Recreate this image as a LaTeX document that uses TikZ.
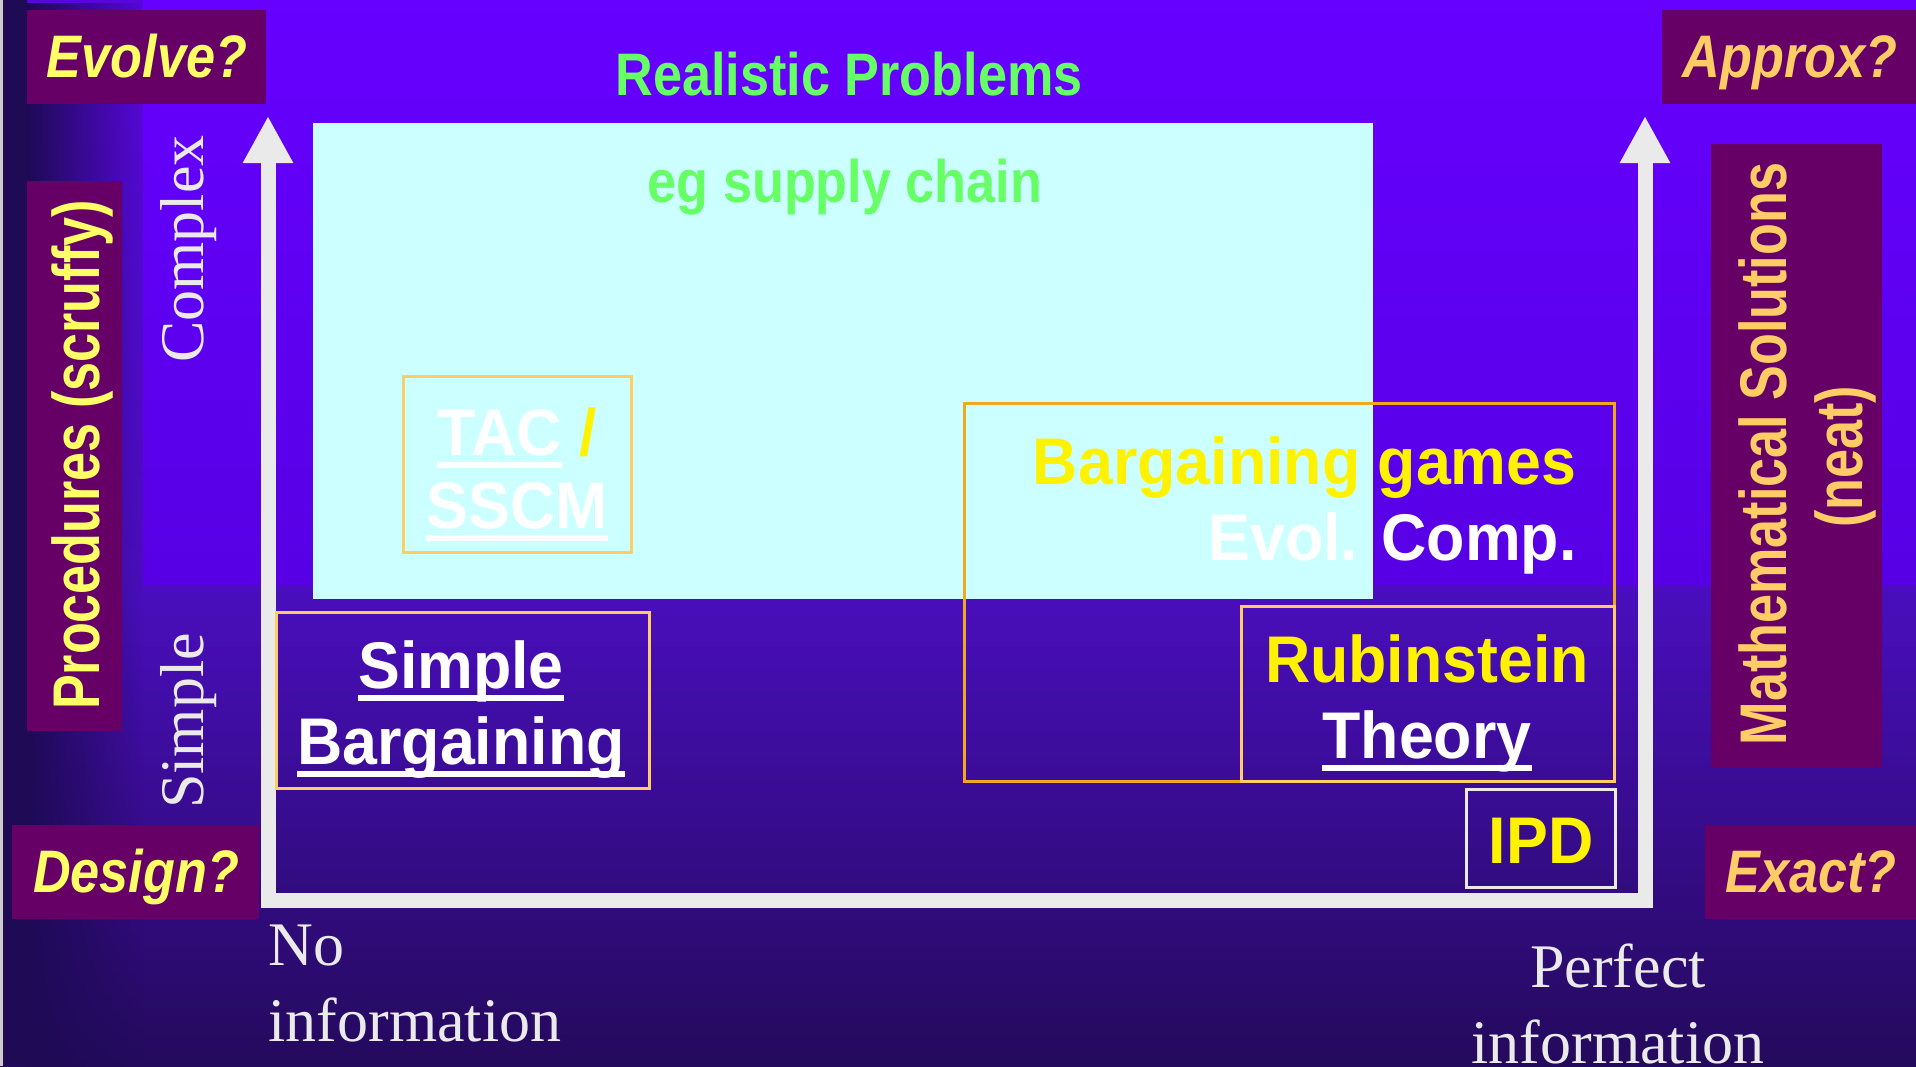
\documentclass[tikz,border=0pt]{standalone}
\usepackage{fontspec}
\setmainfont{Liberation Serif}
\newfontfamily\bodyfont[FakeStretch=0.95]{Liberation Sans}
\newfontfamily\headfont[FakeStretch=0.87]{Liberation Sans}
\newfontfamily\sidefont[FakeStretch=0.79]{Liberation Sans}
\usepackage{tikz}
\usetikzlibrary{arrows.meta,fadings}

\definecolor{bgtop}{HTML}{6600FF}
\definecolor{bgmid}{HTML}{5700E4}
\definecolor{bgleft}{HTML}{5806DC}
\definecolor{bglow}{HTML}{4A0EBE}
\definecolor{bgbottom}{HTML}{240A5C}
\definecolor{bgdark}{HTML}{1E0A55}
\definecolor{tagpurple}{HTML}{660066}
\definecolor{tagyellow}{HTML}{FFFF66}
\definecolor{tagorange}{HTML}{FFCC66}
\definecolor{probgreen}{HTML}{66FF66}
\definecolor{realcyan}{HTML}{CCFFFF}
\definecolor{boxorange}{HTML}{F0A820}
\definecolor{axisgray}{HTML}{EAEAEA}

\tikzfading[name=fadeoff right, left color=transparent!0, right color=transparent!100]

% thick underline as on the slide
\newcommand\ulword[1]{\setbox0=\hbox{#1}\rlap{\rule[-13pt]{\wd0}{6.5pt}}\box0\relax}

\begin{document}
\begin{tikzpicture}[x=1pt,y=-1pt,
    tagbox/.style={fill=tagpurple,inner sep=0pt},
    outbox/.style={draw=tagorange,line width=3pt,inner sep=0pt},
    asktxt/.style={anchor=base,font=\headfont\bfseries\itshape\fontsize{60}{70}\selectfont},
    headtxt/.style={anchor=base,text=probgreen,font=\headfont\bfseries\fontsize{60}{70}\selectfont},
    sidetxt/.style={anchor=base,rotate=90,font=\sidefont\bfseries\fontsize{66}{76}\selectfont},
    bodytxt/.style={anchor=base,text=white,font=\bodyfont\bfseries\fontsize{66}{76}\selectfont},
    seriftxt/.style={anchor=base,text=axisgray,font=\fontsize{62}{76}\selectfont},
    axisline/.style={draw=axisgray,line width=15pt,line join=miter,
      {Triangle[width=47pt,length=47pt]}-{Triangle[width=47pt,length=47pt]}}]
  \useasboundingbox (0,0) rectangle (1916,1066);
  \clip (0,0) rectangle (1916,1066);
  % background
  \shade[top color=bgleft,bottom color=bglow] (0,0) rectangle (143,585);
  \shade[top color=bglow,bottom color=bgbottom] (0,585) rectangle (1916,1066);
  \shade[top color=bgtop,bottom color=bgmid] (143,0) rectangle (1916,585);
  \fill[bgdark] (3,0) rectangle (27,1066);
  \fill[bgdark,path fading=fadeoff right] (27,0) rectangle (143,1066);
  \fill[black!20!white] (0,0) rectangle (3,1066);

  % corner questions
  \node[tagbox,minimum width=239pt,minimum height=94pt] (evolveBox) at (146.5,57) {};
  \node[asktxt,text=tagyellow] (evolve) at (147,77) {Evolve?};
  \node[tagbox,minimum width=254pt,minimum height=94pt] (approxBox) at (1789,57) {};
  \node[asktxt,text=tagorange] (approx) at (1790,77) {Approx?};
  \node[tagbox,minimum width=247pt,minimum height=94pt] (designBox) at (135.5,872) {};
  \node[asktxt,text=tagyellow] (design) at (136,892) {Design?};
  \node[tagbox,minimum width=211pt,minimum height=94pt] (exactBox) at (1810.5,872) {};
  \node[asktxt,text=tagorange] (exact) at (1811,892) {Exact?};

  % side labels
  \node[tagbox,minimum width=95pt,minimum height=550pt] (procBox) at (74.5,456) {};
  \node[sidetxt,text=tagyellow] (proc) at (99,455) {Procedures (scruffy)};
  \node[tagbox,minimum width=171pt,minimum height=623pt] (mathBox) at (1796.5,455.5) {};
  \node[sidetxt,text=tagorange] (math) at (1786,454) {Mathematical Solutions};
  \node[sidetxt,text=tagorange] (neat) at (1862,457) {(neat)};

  % realistic problems
  \node[headtxt] (realistic) at (849,95) {Realistic Problems};
  \fill[realcyan] (313,123) rectangle (1373,599);
  \node[headtxt] (supply) at (845,202) {eg supply chain};

  % axes
  \coordinate (ytop) at (268,116);
  \coordinate (origin) at (268,900);
  \coordinate (xend) at (1645,900);
  \coordinate (ytop2) at (1645,116);
  \draw[axisline] (ytop) -- (origin) -- (xend) -- (ytop2);
  \node[seriftxt,rotate=90] (complex) at (203,249) {Complex};
  \node[seriftxt,rotate=90] (simple) at (203,721) {Simple};
  \node[seriftxt,anchor=base west] (noinfo1) at (265,965) {No};
  \node[seriftxt,anchor=base west] (noinfo2) at (265,1041) {information};
  \node[seriftxt] (perfect1) at (1618,987) {Perfect};
  \node[seriftxt] (perfect2) at (1618,1063) {information};

  % approaches
  \node[outbox,minimum width=228pt,minimum height=176pt] (tacBox) at (517,464) {};
  \node[bodytxt] (tac) at (517,455) {\ulword{TAC} \textcolor{yellow}{/}};
  \node[bodytxt] (sscm) at (517,528) {\ulword{SSCM}};
  \node[outbox,minimum width=373pt,minimum height=176pt] (simpleBox) at (462.5,700) {};
  \node[bodytxt] (simpleB1) at (461,688) {\ulword{Simple}};
  \node[bodytxt] (simpleB2) at (461,764) {\ulword{Bargaining}};
  \node[outbox,draw=boxorange,minimum width=650pt,minimum height=378pt] (gamesBox) at (1289,592) {};
  \node[bodytxt,anchor=base east,text=yellow] (games) at (1580,484) {Bargaining games};
  \node[bodytxt,anchor=base east] (evol) at (1580,560) {Evol. Comp.};
  \node[outbox,minimum width=373pt,minimum height=175pt] (rubBox) at (1427.5,693.5) {};
  \node[bodytxt,text=yellow] (rub) at (1427,682) {Rubinstein};
  \node[bodytxt] (theory) at (1427,758) {\ulword{Theory}};
  \node[outbox,draw=axisgray,minimum width=149pt,minimum height=98pt] (ipdBox) at (1540.5,838) {};
  \node[bodytxt,text=yellow] (ipd) at (1541,863) {IPD};
\end{tikzpicture}
\end{document}
